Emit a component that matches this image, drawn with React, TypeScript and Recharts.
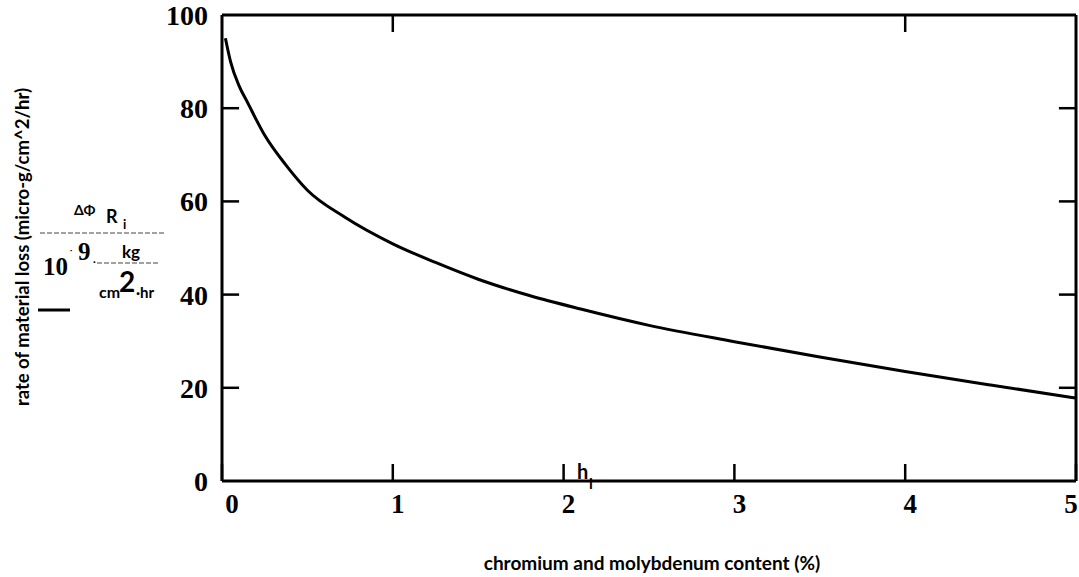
import { LineChart, Line, XAxis, YAxis, ReferenceLine } from 'recharts';

// chromium + molybdenum content (%) and the matching material loss rate
const contentPct = [0.02, 0.05, 0.1, 0.15, 0.25, 0.37, 0.5, 0.72, 1, 1.25, 1.5, 1.8, 2.1, 2.5, 3, 3.5, 4, 4.5, 5];
const lossRate = [95, 90, 84.8, 81.2, 74.2, 68, 62.4, 56.6, 50.9, 46.9, 43.3, 39.8, 36.9, 33.4, 29.9, 26.6, 23.5, 20.6, 17.8];

const xTicks = [0, 1, 2, 3, 4, 5];
const yTicks = [0, 20, 40, 60, 80, 100];
const topTicks = [1, 4];
const sideTicks = [20, 40, 60, 80];

const data = contentPct.map((x, i) => ({ x, loss: lossRate[i] }));

const serif = '"Liberation Serif", "Times New Roman", serif';
const sans = 'Lato, "Open Sans", sans-serif';
const frame = { stroke: '#000', strokeWidth: 3 };
const tickMark = { stroke: '#000', strokeWidth: 2.5 };
const innerTick = 0.1; // length of the inward side ticks, in x units

const XTick = ({ x, y, payload }: any) => {
  const shift = payload.value === 0 ? 10 : payload.value === 5 ? -4 : 5;
  return (
    <text x={x + shift} y={y} dy="0.71em" textAnchor="middle" fontFamily={serif} fontWeight="bold" fontSize={27} fill="#000">
      {payload.value}
    </text>
  );
};

const YTick = ({ x, y, payload }: any) => (
  <text x={x} y={y} dy="0.36em" textAnchor="end" fontFamily={serif} fontWeight="bold" fontSize={28} fill="#000">
    {payload.value}
  </text>
);

// tick marks only, no text
const NoLabel = () => <g />;

// axis captions, including the Mathcad-style unit expression on the left
function Captions() {
  return (
    <svg width={1079} height={577} style={{ position: 'absolute', left: 0, top: 0, pointerEvents: 'none' }}>
      <text
        transform="translate(29,247) rotate(-90)"
        textAnchor="middle"
        fontFamily={sans}
        fontWeight="bold"
        fontSize={18.5}
        fill="#000"
      >
        rate of material loss (micro-g/cm^2/hr)
      </text>

      <g fontFamily={sans} fontWeight="bold" fill="#000">
        <text x={74} y={215} fontSize={14}>ΔΦ</text>
        <text x={106} y={223} fontSize={18}>R</text>
        <text x={123} y={229} fontSize={13}>i</text>
        <line x1={40} y1={233} x2={165} y2={233} stroke="#444" strokeWidth={1} strokeDasharray="5 2" />
        <text x={43} y={275} fontSize={25} fontFamily={serif}>10</text>
        <text x={70} y={253} fontSize={8}>·</text>
        <text x={78} y={260} fontSize={25} fontFamily={serif}>9</text>
        <text x={93} y={265} fontSize={10}>·</text>
        <text x={122} y={258} fontSize={17}>kg</text>
        <line x1={97} y1={263} x2={160} y2={263} stroke="#444" strokeWidth={1} strokeDasharray="5 2" />
        <text x={99} y={298} fontSize={16}>cm</text>
        <text x={119} y={292} fontSize={28}>2</text>
        <text x={136} y={298} fontSize={15}>·hr</text>
        <line x1={38} y1={310} x2={70} y2={310} stroke="#000" strokeWidth={3} />
      </g>

      <g fontFamily={sans} fontWeight="bold" fill="#000">
        <text x={577} y={479} fontSize={20}>h</text>
        <text x={589} y={489} fontSize={15}>i</text>
        <text x={652} y={570} textAnchor="middle" fontSize={19}>
          chromium and molybdenum content (%)
        </text>
      </g>
    </svg>
  );
}

export default function App() {
  return (
    <div style={{ position: 'absolute', left: 0, top: 0, width: 1079, height: 577, background: '#fff' }}>
      <LineChart width={1079} height={577} data={data} margin={{ top: 15, right: 2, bottom: 56, left: 122 }}>
        <XAxis
          dataKey="x"
          type="number"
          domain={[0, 5]}
          ticks={xTicks}
          height={40}
          tickSize={-17}
          tickMargin={30}
          tick={<XTick />}
          axisLine={frame}
          tickLine={tickMark}
        />
        <XAxis
          xAxisId="top"
          dataKey="x"
          orientation="top"
          mirror
          type="number"
          domain={[0, 5]}
          ticks={topTicks}
          height={20}
          tickSize={17}
          tick={NoLabel}
          axisLine={frame}
          tickLine={tickMark}
        />
        <YAxis
          yAxisId="left"
          type="number"
          domain={[0, 100]}
          ticks={yTicks}
          width={100}
          tickMargin={8}
          tickLine={false}
          tick={<YTick />}
          axisLine={frame}
        />
        <YAxis
          yAxisId="right"
          orientation="right"
          type="number"
          domain={[0, 100]}
          width={1}
          tick={false}
          axisLine={frame}
        />
        {sideTicks.map((v) => (
          <ReferenceLine
            key={`l${v}`}
            yAxisId="left"
            segment={[{ x: 0, y: v }, { x: innerTick, y: v }]}
            stroke="#000"
            strokeWidth={2.5}
            ifOverflow="visible"
          />
        ))}
        {sideTicks.map((v) => (
          <ReferenceLine
            key={`r${v}`}
            yAxisId="left"
            segment={[{ x: 5 - innerTick, y: v }, { x: 5, y: v }]}
            stroke="#000"
            strokeWidth={2.5}
            ifOverflow="visible"
          />
        ))}
        <Line
          yAxisId="left"
          type="monotone"
          dataKey="loss"
          stroke="#000"
          strokeWidth={3}
          dot={false}
          isAnimationActive={false}
        />
      </LineChart>
      <Captions />
    </div>
  );
}
